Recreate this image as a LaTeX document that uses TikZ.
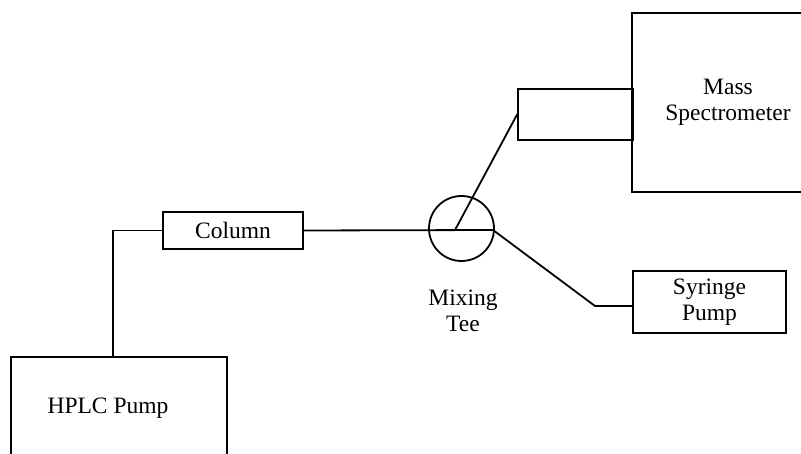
\documentclass[tikz,border=0pt]{standalone}
\usepackage{fontspec}
\setmainfont{Liberation Serif}
\begin{document}
\begin{tikzpicture}[x=1pt,y=-1pt,
  line width=1.8pt,
  unit/.style={draw, rectangle, inner sep=0pt, align=center,
    font=\fontsize{23.5}{26}\selectfont},
  tube/.style={draw, line width=1.8pt}]
\clip (0,0) rectangle (801,454);
\fill[white] (0,0) rectangle (801,454);
% instruments
\node[unit, minimum width=216pt, minimum height=102pt,
  label={[xshift=-11pt, font=\fontsize{23.5}{26}\selectfont]center:HPLC Pump}]
  (hplc) at (119,408) {};
\node[unit, minimum width=140pt, minimum height=37pt] (column) at (233,230.5) {Column};
\node[unit, minimum width=192pt, minimum height=179pt] (ms) at (728,102.5) {Mass\\Spectrometer};
\node[unit, minimum width=115pt, minimum height=51pt] (inlet) at (575.5,114.5) {};
\node[unit, minimum width=153pt, minimum height=62pt] (syringe) at (709.5,302) {Syringe\\Pump};
\node[draw, circle, minimum size=65pt, inner sep=0pt] (tee) at (461.5,228.5) {};
\node[font=\fontsize{23.5}{26}\selectfont, align=center] (teelabel) at (463,311) {Mixing\\Tee};
% flow paths
\coordinate (hplcout) at (113,357);
\coordinate (teein) at (455,230);
\coordinate (teeout) at (493,230);
\coordinate (bend) at (595,306);
\draw[tube] (hplcout) |- (column.west);
\draw[tube] (column.east) -- (teeout);
\draw[tube] (teein) -- (inlet.west);
\draw[tube] (teeout) -- (bend) -- (bend -| syringe.west);
\end{tikzpicture}
\end{document}
